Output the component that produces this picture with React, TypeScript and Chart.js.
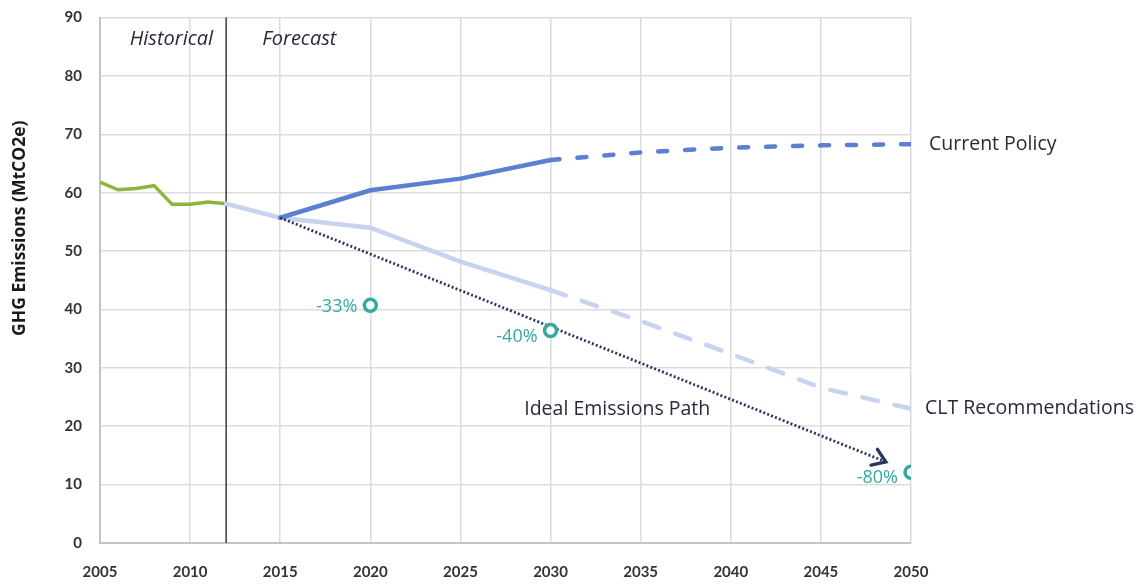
import React, { useEffect, useRef } from "react";
import { Chart, registerables } from "chart.js";

Chart.register(...registerables);

// ---- Data ----
const histYears = [2005, 2006, 2007, 2008, 2009, 2010, 2011, 2012];
const histValues = [61.8, 60.5, 60.7, 61.2, 58.0, 58.0, 58.4, 58.1];

const policyYears = [2015, 2020, 2025, 2030, 2035, 2040, 2045, 2050];
const policyValues = [55.7, 60.4, 62.4, 65.6, 66.9, 67.7, 68.1, 68.3];

const cltYears = [2012, 2015, 2020, 2025, 2030, 2035, 2040, 2045, 2050];
const cltValues = [58.1, 55.7, 54.0, 48.2, 43.3, 38.0, 32.4, 26.6, 23.0];

const idealYears = [2015, 2048.6];
const idealValues = [55.7, 13.9];

const targetYears = [2020, 2030, 2050];
const targetValues = [40.7, 36.4, 12.1];
const targetLabels = ["-33%", "-40%", "-80%"];

const forecastStart = 2012;
const xTicksMin = 2005;
const xTicksMax = 2050;
const yTicksMin = 0;
const yTicksMax = 90;

const yAxisTitle = "GHG Emissions (MtCO2e)";

// ---- Styles ----
const GREEN = "#8db53c";
const BLUE = "#5b7fd1";
const LIGHT = "#c8d3f0";
const NAVY = "#2b3560";
const TEAL = "#33a9a0";
const TEXT = "#262a3a";
const FONT = "Lato, 'Open Sans', sans-serif";
const NOTE_FONT = "'Open Sans', sans-serif";

const zip = (xs: number[], ys: number[]) => xs.map((x, i) => ({ x, y: ys[i] }));

type Note = { text: string; x: number; y: number; dx: number; dy: number; align: CanvasTextAlign; color: string; font: string };

const notes: Note[] = [
  { text: "Current Policy", x: 2050, y: 68.3, dx: 18, dy: 0, align: "left", color: TEXT, font: `19.5px ${NOTE_FONT}` },
  { text: "CLT Recommendations", x: 2050, y: 23.0, dx: 14, dy: 0, align: "left", color: TEXT, font: `19.5px ${NOTE_FONT}` },
  { text: "Ideal Emissions Path", x: 2033.7, y: 22.9, dx: 0, dy: 0, align: "center", color: TEXT, font: `19.5px ${NOTE_FONT}` },
  { text: "Historical", x: 2012, y: 86.2, dx: -13, dy: 0, align: "right", color: TEXT, font: `italic 20px ${NOTE_FONT}` },
  { text: "Forecast", x: 2012, y: 86.2, dx: 36, dy: 0, align: "left", color: TEXT, font: `italic 20px ${NOTE_FONT}` },
];

const annotationPlugin = {
  id: "annotations",
  beforeDatasetsDraw(chart: any) {
    const { ctx, chartArea, scales } = chart;
    const x = scales.x.getPixelForValue(forecastStart);
    ctx.save();
    ctx.strokeStyle = "#3a3a3a";
    ctx.lineWidth = 1.5;
    ctx.beginPath();
    ctx.moveTo(x, chartArea.top);
    ctx.lineTo(x, chartArea.bottom);
    ctx.stroke();
    ctx.restore();
  },
  afterDatasetsDraw(chart: any) {
    const { ctx, scales } = chart;
    ctx.save();
    // arrow head on ideal path
    const n = idealYears.length;
    const x1 = scales.x.getPixelForValue(idealYears[n - 2]);
    const y1 = scales.y.getPixelForValue(idealValues[n - 2]);
    const x2 = scales.x.getPixelForValue(idealYears[n - 1]);
    const y2 = scales.y.getPixelForValue(idealValues[n - 1]);
    const ang = Math.atan2(y2 - y1, x2 - x1);
    const L = 15;
    const spread = 0.6;
    ctx.strokeStyle = NAVY;
    ctx.lineWidth = 3.4;
    ctx.lineCap = "round";
    ctx.lineJoin = "miter";
    ctx.beginPath();
    ctx.moveTo(x2 - L * Math.cos(ang - spread), y2 - L * Math.sin(ang - spread));
    ctx.lineTo(x2, y2);
    ctx.lineTo(x2 - L * Math.cos(ang + spread), y2 - L * Math.sin(ang + spread));
    ctx.stroke();

    // target labels
    ctx.fillStyle = TEAL;
    ctx.font = `18px ${NOTE_FONT}`;
    ctx.textAlign = "right";
    ctx.textBaseline = "middle";
    targetYears.forEach((yr, i) => {
      const px = scales.x.getPixelForValue(yr);
      const py = scales.y.getPixelForValue(targetValues[i]);
      ctx.fillText(targetLabels[i], px - 13, py + (i === 0 ? 2 : 6));
    });

    // text notes
    notes.forEach((nt) => {
      ctx.font = nt.font;
      ctx.fillStyle = nt.color;
      ctx.textAlign = nt.align;
      ctx.textBaseline = "middle";
      ctx.fillText(nt.text, scales.x.getPixelForValue(nt.x) + nt.dx, scales.y.getPixelForValue(nt.y) + nt.dy);
    });

    // y axis title
    ctx.translate(12, (chart.chartArea.top + chart.chartArea.bottom) / 2 - 52);
    ctx.rotate(-Math.PI / 2);
    ctx.font = `bold 17.5px 'Open Sans', sans-serif`;
    ctx.fillStyle = "#1a1a1a";
    ctx.textAlign = "center";
    ctx.textBaseline = "middle";
    ctx.fillText(yAxisTitle, 0, 0);
    ctx.restore();
  },
};

export default function App() {
  const ref = useRef<HTMLCanvasElement>(null);
  useEffect(() => {
    if (!ref.current) return;
    const dashAfter = (limit: number, dash: number[]) => (c: any) =>
      c.p0.parsed.x >= limit ? dash : undefined;
    const chart = new Chart(ref.current, {
      type: "line",
      data: {
        datasets: [
          {
            label: "Targets",
            data: zip(targetYears, targetValues),
            showLine: false,
            pointRadius: 6,
            pointBorderWidth: 3.5,
            pointBorderColor: TEAL,
            pointBackgroundColor: "#ffffff",
            order: 0,
          },
          {
            label: "Ideal Emissions Path",
            data: zip(idealYears, idealValues),
            borderColor: NAVY,
            borderWidth: 2.8,
            borderDash: [2, 2.2],
            pointRadius: 0,
            order: 1,
          },
          {
            label: "Current Policy",
            data: zip(policyYears, policyValues),
            borderColor: BLUE,
            borderWidth: 4.5,
            pointRadius: 0,
            borderCapStyle: "round",
            segment: { borderDash: dashAfter(2030, [9, 18]) },
            order: 2,
          },
          {
            label: "CLT Recommendations",
            data: zip(cltYears, cltValues),
            borderColor: LIGHT,
            borderWidth: 4.5,
            pointRadius: 0,
            borderCapStyle: "round",
            segment: { borderDash: dashAfter(2030, [16, 17]) },
            order: 3,
          },
          {
            label: "Historical",
            data: zip(histYears, histValues),
            borderColor: GREEN,
            borderWidth: 3.5,
            pointRadius: 0,
            order: 4,
          },
        ],
      },
      options: {
        responsive: false,
        animation: false,
        layout: { padding: { top: 7, right: 229, left: 0, bottom: 0 } },
        plugins: { legend: { display: false }, tooltip: { enabled: false } },
        scales: {
          x: {
            type: "linear",
            min: xTicksMin,
            max: xTicksMax,
            afterFit: (s: any) => { s.height = 35; s.paddingLeft = 0; s.paddingRight = 0; },
            ticks: {
              stepSize: 5,
              padding: 20,
              color: "#333333",
              font: { family: FONT, size: 15, weight: "bold" },
              callback: (v: any) => String(v),
            },
            grid: { color: "#dcdcdc", lineWidth: 1.5, drawTicks: false },
            border: { color: "#c4c4c4", width: 2 },
          },
          y: {
            min: yTicksMin,
            max: yTicksMax,
            afterFit: (s: any) => { s.width = 92; s.paddingTop = 0; s.paddingBottom = 0; },
            ticks: {
              stepSize: 10,
              padding: 18,
              color: "#333333",
              font: { family: FONT, size: 15, weight: "bold" },
            },
            grid: { color: "#dcdcdc", lineWidth: 1.5, drawTicks: false },
            border: { color: "#c4c4c4", width: 2 },
          },
        },
      },
      plugins: [annotationPlugin],
    });
    return () => chart.destroy();
  }, []);
  return (
    <div style={{ width: 1132, height: 570 }}>
      <canvas ref={ref} width={1132} height={570} style={{ display: "block" }} />
    </div>
  );
}
